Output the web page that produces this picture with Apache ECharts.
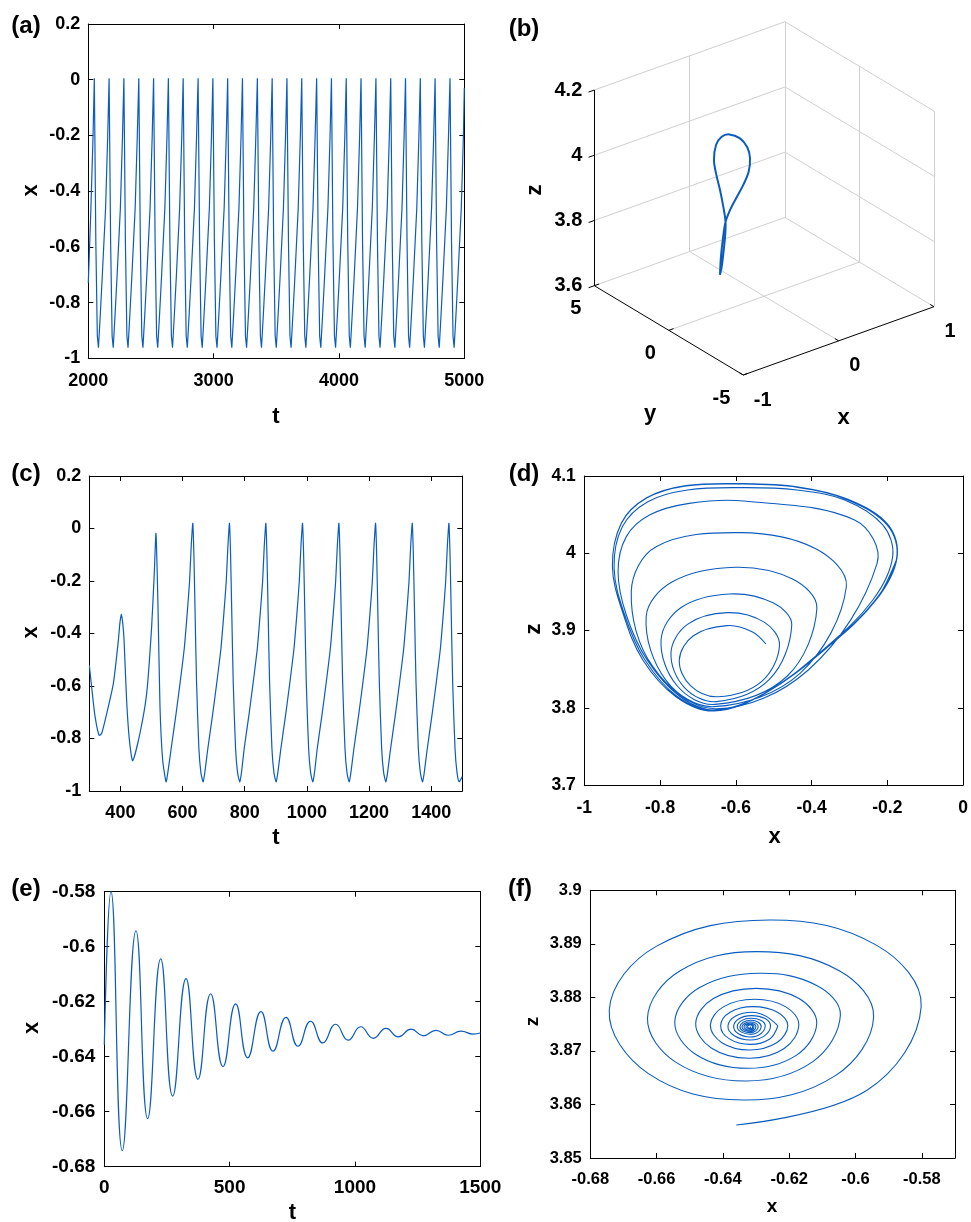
<!DOCTYPE html>
<html><head><meta charset="utf-8">
<script src="https://cdn.jsdelivr.net/npm/echarts@6/dist/echarts.min.js"></script>
<style>html,body{margin:0;padding:0;background:#fff}#c{width:971px;height:1222px}</style>
</head><body><div id="c"></div>
<script>
// ---------------- DATA ----------------
// (a) x(t), t in [2000,5000]
const aT = [2000, 2021, 2038,
 2048, 2060, 2072, 2081, 2096, 2111, 2138, 2155,
 2166, 2178, 2190, 2199, 2214, 2229, 2256, 2273,
 2284, 2296, 2308, 2317, 2332, 2347, 2374, 2391,
 2403, 2415, 2427, 2436, 2451, 2466, 2493, 2510,
 2521, 2533, 2545, 2554, 2569, 2584, 2611, 2628,
 2639, 2651, 2663, 2672, 2687, 2702, 2729, 2746,
 2757, 2769, 2781, 2790, 2805, 2820, 2847, 2864,
 2876, 2888, 2900, 2909, 2924, 2939, 2966, 2983,
 2994, 3006, 3018, 3027, 3042, 3057, 3084, 3101,
 3112, 3124, 3136, 3145, 3160, 3175, 3202, 3219,
 3230, 3242, 3254, 3263, 3278, 3293, 3320, 3337,
 3349, 3361, 3373, 3382, 3397, 3412, 3439, 3456,
 3467, 3479, 3491, 3500, 3515, 3530, 3557, 3574,
 3585, 3597, 3609, 3618, 3633, 3648, 3675, 3692,
 3703, 3715, 3727, 3736, 3751, 3766, 3793, 3810,
 3822, 3834, 3846, 3855, 3870, 3885, 3912, 3929,
 3940, 3952, 3964, 3973, 3988, 4003, 4030, 4047,
 4058, 4070, 4082, 4091, 4106, 4121, 4148, 4165,
 4176, 4188, 4200, 4209, 4224, 4239, 4266, 4283,
 4295, 4307, 4319, 4328, 4343, 4358, 4385, 4402,
 4413, 4425, 4437, 4446, 4461, 4476, 4503, 4520,
 4531, 4543, 4555, 4564, 4579, 4594, 4621, 4638,
 4649, 4661, 4673, 4682, 4697, 4712, 4739, 4756,
 4767, 4779, 4791, 4800, 4815, 4830, 4857, 4874,
 4886, 4898, 4910, 4919, 4934, 4949, 4976, 4993,
 5000];
const aX = [-0.73, -0.46, -0.2,
 0.005, -0.58, -0.92, -0.962, -0.84, -0.71, -0.46, -0.2,
 0.005, -0.58, -0.92, -0.962, -0.84, -0.71, -0.46, -0.2,
 0.005, -0.58, -0.92, -0.962, -0.84, -0.71, -0.46, -0.2,
 0.005, -0.58, -0.92, -0.962, -0.84, -0.71, -0.46, -0.2,
 0.005, -0.58, -0.92, -0.962, -0.84, -0.71, -0.46, -0.2,
 0.005, -0.58, -0.92, -0.962, -0.84, -0.71, -0.46, -0.2,
 0.005, -0.58, -0.92, -0.962, -0.84, -0.71, -0.46, -0.2,
 0.005, -0.58, -0.92, -0.962, -0.84, -0.71, -0.46, -0.2,
 0.005, -0.58, -0.92, -0.962, -0.84, -0.71, -0.46, -0.2,
 0.005, -0.58, -0.92, -0.962, -0.84, -0.71, -0.46, -0.2,
 0.005, -0.58, -0.92, -0.962, -0.84, -0.71, -0.46, -0.2,
 0.005, -0.58, -0.92, -0.962, -0.84, -0.71, -0.46, -0.2,
 0.005, -0.58, -0.92, -0.962, -0.84, -0.71, -0.46, -0.2,
 0.005, -0.58, -0.92, -0.962, -0.84, -0.71, -0.46, -0.2,
 0.005, -0.58, -0.92, -0.962, -0.84, -0.71, -0.46, -0.2,
 0.005, -0.58, -0.92, -0.962, -0.84, -0.71, -0.46, -0.2,
 0.005, -0.58, -0.92, -0.962, -0.84, -0.71, -0.46, -0.2,
 0.005, -0.58, -0.92, -0.962, -0.84, -0.71, -0.46, -0.2,
 0.005, -0.58, -0.92, -0.962, -0.84, -0.71, -0.46, -0.2,
 0.005, -0.58, -0.92, -0.962, -0.84, -0.71, -0.46, -0.2,
 0.005, -0.58, -0.92, -0.962, -0.84, -0.71, -0.46, -0.2,
 0.005, -0.58, -0.92, -0.962, -0.84, -0.71, -0.46, -0.2,
 0.005, -0.58, -0.92, -0.962, -0.84, -0.71, -0.46, -0.2,
 0.005, -0.58, -0.92, -0.962, -0.84, -0.71, -0.46, -0.2,
 0.005, -0.58, -0.92, -0.962, -0.84, -0.71, -0.46, -0.2,
 -0.03];
const aXTicks = [2000, 3000, 4000, 5000];
const aYTicks = [-1, -0.8, -0.6, -0.4, -0.2, 0, 0.2];

// (b) 3-D limit cycle (x, y, z)
const bX = [-0.96, -0.9, -0.84, -0.76, -0.68, -0.6, -0.5, -0.4, -0.3, -0.18, -0.08, 0, -0.08, -0.2, -0.32, -0.45, -0.58, -0.7, -0.78, -0.86, -0.92, -0.95, -0.96];
const bY = [-3.18, -2.86, -2.61, -2.27, -2.01, -1.95, -1.80, -1.52, -0.97, -0.02, 1.11, 2.34, 2.34, 1.95, 1.32, 0.35, -0.75, -1.74, -2.40, -2.88, -3.15, -3.23, -3.18];
const bZ = [3.853, 3.894, 3.937, 3.969, 3.985, 4.016, 4.043, 4.065, 4.081, 4.076, 4.062, 4.032, 4.033, 4.031, 4.015, 4.014, 4.007, 3.995, 3.975, 3.951, 3.914, 3.878, 3.853];
const bXTicks = [-1, 0, 1];
const bYTicks = [-5, 0, 5];
const bZTicks = [3.6, 3.8, 4, 4.2];

// (c) x(t), t in [300,1500]
const cT = [300, 308, 318.6, 331.5, 340, 356, 377.5, 393.6, 398, 403, 408, 411.8, 420, 429, 439.6, 463, 484.6, 500.6, 509, 514.6, 521, 527.4, 536, 547, 552,
 563.5, 578.5, 592.5, 605.5, 614.5, 622.5, 627.5, 633, 636.5, 640.5, 645, 652.5, 659, 666, 671,
 681.5, 696.5, 710.5, 723.5, 732.5, 740.5, 745.5, 751, 754.5, 758.5, 763, 770.5, 777, 784, 789,
 798.5, 813.5, 827.5, 840.5, 849.5, 857.5, 862.5, 868, 871.5, 875.5, 880, 887.5, 894, 901, 906,
 916.5, 931.5, 945.5, 958.5, 967.5, 975.5, 980.5, 986, 989.5, 993.5, 998, 1005.5, 1012, 1019, 1024,
 1033.5, 1048.5, 1062.5, 1075.5, 1084.5, 1092.5, 1097.5, 1103, 1106.5, 1110.5, 1115, 1122.5, 1129, 1136, 1141,
 1151.5, 1166.5, 1180.5, 1193.5, 1202.5, 1210.5, 1215.5, 1221, 1224.5, 1228.5, 1233, 1240.5, 1247, 1254, 1259,
 1269.5, 1284.5, 1298.5, 1311.5, 1320.5, 1328.5, 1333.5, 1339, 1342.5, 1346.5, 1351, 1358.5, 1365, 1372, 1377,
 1387.5, 1402.5, 1416.5, 1429.5, 1438.5, 1446.5, 1451.5, 1457, 1460.5, 1464.5, 1469, 1476.5, 1483, 1490,
 1500];
const cX = [-0.52, -0.609, -0.717, -0.788, -0.78, -0.705, -0.59, -0.425, -0.365, -0.326, -0.365, -0.425, -0.654, -0.806, -0.885, -0.78, -0.628, -0.374, -0.171, -0.019, -0.298, -0.679, -0.882, -0.965, -0.935,
 -0.837, -0.711, -0.584, -0.457, -0.33, -0.203, -0.076, 0.02, -0.1, -0.33, -0.584, -0.837, -0.93, -0.965, -0.935,
 -0.837, -0.711, -0.584, -0.457, -0.33, -0.203, -0.076, 0.02, -0.1, -0.33, -0.584, -0.837, -0.93, -0.965, -0.935,
 -0.837, -0.711, -0.584, -0.457, -0.33, -0.203, -0.076, 0.02, -0.1, -0.33, -0.584, -0.837, -0.93, -0.965, -0.935,
 -0.837, -0.711, -0.584, -0.457, -0.33, -0.203, -0.076, 0.02, -0.1, -0.33, -0.584, -0.837, -0.93, -0.965, -0.935,
 -0.837, -0.711, -0.584, -0.457, -0.33, -0.203, -0.076, 0.02, -0.1, -0.33, -0.584, -0.837, -0.93, -0.965, -0.935,
 -0.837, -0.711, -0.584, -0.457, -0.33, -0.203, -0.076, 0.02, -0.1, -0.33, -0.584, -0.837, -0.93, -0.965, -0.935,
 -0.837, -0.711, -0.584, -0.457, -0.33, -0.203, -0.076, 0.02, -0.1, -0.33, -0.584, -0.837, -0.93, -0.965, -0.935,
 -0.837, -0.711, -0.584, -0.457, -0.33, -0.203, -0.076, 0.02, -0.1, -0.33, -0.584, -0.837, -0.93, -0.965,
 -0.945];
const cXTicks = [400, 600, 800, 1000, 1200, 1400];
const cYTicks = [-1, -0.8, -0.6, -0.4, -0.2, 0, 0.2];

// (d) phase portrait x–z (transient spiralling out to the limit cycle)
const dX = [-0.5205, -0.5572, -0.6227, -0.7122, -0.7493, -0.7191, -0.6463, -0.5321, -0.4847, -0.5252,
 -0.6227, -0.7277, -0.7712, -0.7362, -0.6515, -0.5107, -0.4524, -0.5005,
 -0.6166, -0.7444, -0.7974, -0.7556, -0.6550, -0.4648, -0.3860, -0.4490,
 -0.6009, -0.7676, -0.8367, -0.7842, -0.6576, -0.4306, -0.3083, -0.3902,
 -0.5878, -0.8105, -0.8760, -0.8192, -0.6576, -0.4087, -0.2271, -0.2865,
 -0.5790, -0.7231, -0.8279, -0.8891, -0.9109, -0.8891, -0.8341, -0.7493, -0.6576, -0.5266, -0.3651, -0.2384, -0.1860, -0.2122, -0.3127, -0.4393,
 -0.5747, -0.7275, -0.8323, -0.8996, -0.9214, -0.8943, -0.8411, -0.7555, -0.6576, -0.5240, -0.3581, -0.2323, -0.1756, -0.1991, -0.3057, -0.4367,
 -0.5834, -0.7319, -0.8367, -0.9022, -0.9258, -0.8978, -0.8454, -0.7581, -0.6576, -0.5223, -0.3563, -0.2297, -0.1747, -0.1974, -0.3039, -0.4349,
 -0.5834, -0.7319, -0.8367, -0.9022, -0.9258, -0.8978, -0.8454, -0.7581, -0.6576, -0.5223, -0.3563, -0.2297, -0.1747];
const dZ = [3.8825, 3.8985, 3.9063, 3.8932, 3.8618, 3.8282, 3.8143, 3.8339, 3.8812, 3.9108,
 3.9231, 3.9079, 3.8713, 3.8265, 3.8079, 3.8370, 3.9071, 3.9355,
 3.9473, 3.9298, 3.8877, 3.8288, 3.8044, 3.8408, 3.9287, 3.9662,
 3.9818, 3.9630, 3.9179, 3.8355, 3.8014, 3.8446, 3.9567, 4.0062,
 4.0267, 4.0085, 3.9503, 3.8532, 3.7988, 3.8489, 3.9870, 4.0430,
 4.0676, 4.0646, 4.0495, 4.0215, 3.9762, 3.9201, 3.8618, 3.8152, 3.7971, 3.8178, 3.8769, 3.9395, 3.9956, 4.0366, 4.0689, 4.0819,
 4.0849, 4.0819, 4.0668, 4.0344, 3.9813, 3.9214, 3.8627, 3.8148, 3.7962, 3.8187, 3.8791, 3.9391, 3.9934, 4.0357, 4.0694, 4.0853,
 4.0896, 4.0871, 4.0711, 4.0387, 3.9826, 3.9222, 3.8618, 3.8143, 3.7958, 3.8187, 3.8791, 3.9395, 3.9934, 4.0366, 4.0698, 4.0858,
 4.0901, 4.0875, 4.0715, 4.0392, 3.9826, 3.9222, 3.8618, 3.8143, 3.7958, 3.8187, 3.8791, 3.9395, 3.9934];
const dXTicks = [-1, -0.8, -0.6, -0.4, -0.2, 0];
const dYTicks = [3.7, 3.8, 3.9, 4, 4.1];

// (e) damped x(t), t in [0,1500]
const eT = [0, 26.7, 71.8, 126.4, 173, 225, 272.8, 326, 373.8, 424.3, 473.5, 524, 572, 625, 673, 725, 772.6, 823, 872, 923, 973, 1022.6, 1073, 1123.7, 1173, 1223.4, 1272.6, 1323, 1372, 1423, 1472, 1500];
const eX = [-0.6357, -0.58, -0.6742, -0.5942, -0.6625, -0.6044, -0.6543, -0.6116, -0.6482, -0.6171, -0.6436, -0.6208, -0.6404, -0.6236, -0.638, -0.6257, -0.6362, -0.6271, -0.635, -0.6282, -0.634, -0.6291, -0.6333, -0.6297, -0.6328, -0.630, -0.6324, -0.6304, -0.6322, -0.6307, -0.6318, -0.6314];
const eXTicks = [0, 500, 1000, 1500];
const eYTicks = [-0.68, -0.66, -0.64, -0.62, -0.6, -0.58];

// (f) x–z spiral into the focus: outer turns, then inner turns
const fOuterX = [-0.63597, -0.59655,
 -0.5802, -0.5936, -0.62594, -0.66012, -0.67428, -0.66247, -0.63396, -0.60609,
 -0.59454, -0.60491, -0.62995, -0.65314, -0.66275, -0.65402, -0.63296, -0.61289,
 -0.60457, -0.61172, -0.62895, -0.64703, -0.65452, -0.64805, -0.63246, -0.61778,
 -0.6117, -0.61704, -0.62995, -0.64286, -0.6482, -0.6435, -0.63216, -0.62152,
 -0.61711, -0.62102, -0.63045, -0.63988, -0.64379, -0.64032, -0.63196, -0.6238,
 -0.62042, -0.62351, -0.63095, -0.63783, -0.64068, -0.63806, -0.63176, -0.62587,
 -0.62343];
const fOuterZ = [3.85616, 3.86264,
 3.87827, 3.88971, 3.89446, 3.88953, 3.87765, 3.86576, 3.86083, 3.86539,
 3.8764, 3.88499, 3.88854, 3.88489, 3.87609, 3.86781, 3.86438, 3.868,
 3.87671, 3.88222, 3.8845, 3.88185, 3.87547, 3.8693, 3.86675, 3.86922,
 3.87516, 3.87978, 3.88169, 3.87978, 3.87516, 3.87054, 3.86862, 3.87044,
 3.87484, 3.87823, 3.87964, 3.87823, 3.87484, 3.87154, 3.87017, 3.87151,
 3.87472, 3.87723, 3.87827, 3.87723, 3.87472, 3.87225, 3.87123, 3.87224,
 3.87466];
const fInnerX = [-0.62343, -0.63115, -0.63848, -0.63176,
 -0.62564, -0.63135, -0.63677, -0.63176,
 -0.62724, -0.63145, -0.63567, -0.63176,
 -0.62845, -0.63155, -0.63487, -0.63176,
 -0.62936, -0.63165, -0.63426, -0.63176,
 -0.63006, -0.6317, -0.63366, -0.63176,
 -0.63066, -0.63176, -0.63306, -0.63176,
 -0.63106, -0.63176, -0.63256, -0.63176,
 -0.63176];
const fInnerZ = [3.87466, 3.87721, 3.87466, 3.87204,
 3.8746, 3.87659, 3.8746, 3.8726,
 3.8746, 3.87609, 3.8746, 3.8731,
 3.8745, 3.87572, 3.8745, 3.87341,
 3.8745, 3.8754, 3.8745, 3.87365,
 3.8745, 3.87516, 3.8745, 3.8739,
 3.87453, 3.87497, 3.87453, 3.87409,
 3.87453, 3.87484, 3.87453, 3.87422,
 3.87453];
const fXTicks = [-0.68, -0.66, -0.64, -0.62, -0.6, -0.58];
const fYTicks = [3.85, 3.86, 3.87, 3.88, 3.89, 3.9];

// ---------------- STYLE / LAYOUT ----------------
const FONT = "'Liberation Sans', Arial, Helvetica, sans-serif";
const BLUE = '#0b5cbe';
const fmt = v => String(parseFloat(Number(v).toFixed(6)));
const zip = (a, b) => a.map((v, i) => [v, b[i]]);

const grids = [], xAxes = [], yAxes = [], series = [], graphics = [];

function addPanel(box, xr, yr, xt, yt, fs, xm, ym) {
  const gi = grids.length;
  grids.push({left: box[0], top: box[1], width: box[2], height: box[3], containLabel: false});
  const mk = (r, t, pos, lab, m) => ({
    gridIndex: gi, type: 'value', min: r[0], max: r[1], position: pos,
    axisLine: {show: true, onZero: false, lineStyle: {color: '#000', width: 1}},
    axisTick: {show: true, inside: true, length: 5, customValues: t, lineStyle: {color: '#000', width: 1}},
    axisLabel: {show: lab, customValues: t, margin: m, color: '#000', fontSize: fs, fontWeight: 'bold', fontFamily: FONT, formatter: fmt},
    splitLine: {show: false}
  });
  const xi = xAxes.length, yi = yAxes.length;
  xAxes.push(mk(xr, xt, 'bottom', true, xm), mk(xr, xt, 'top', false, xm));
  yAxes.push(mk(yr, yt, 'left', true, ym), mk(yr, yt, 'right', false, ym));
  return {xi, yi};
}
// plain ECharts line series
function addLine(p, data, width, smooth) {
  series.push({type: 'line', xAxisIndex: p.xi, yAxisIndex: p.yi, data, symbol: 'none', showSymbol: false,
    smooth: smooth || false, clip: true, silent: true, animation: false,
    lineStyle: {color: BLUE, width}});
}
// curve through the points, positioned by the axes (api.coord), drawn as a smoothed polyline
function addCurve(p, xs, ys, width, smooth) {
  series.push({type: 'custom', coordinateSystem: 'cartesian2d', xAxisIndex: p.xi, yAxisIndex: p.yi,
    silent: true, animation: false, clip: true, z: 3,
    data: [[xs[0], ys[0]]],
    renderItem: (params, api) => ({
      type: 'polyline', silent: true,
      shape: {points: xs.map((x, i) => api.coord([x, ys[i]])), smooth: smooth},
      style: {stroke: BLUE, lineWidth: width, fill: null, lineJoin: 'round'}
    })
  });
}
function txt(s, x, y, size, rot, align) {
  graphics.push({type: 'text', x, y, rotation: rot || 0, z: 100, silent: true,
    style: {text: s, fontSize: size, fontWeight: 'bold', fontFamily: FONT, fill: '#000',
      align: align || 'center', verticalAlign: 'middle'}});
}

// (a)
const pa = addPanel([88.3, 24, 376, 334.3], [2000, 5000], [-1, 0.2], aXTicks, aYTicks, 18, 14, 8);
addLine(pa, zip(aT, aX), 1.2);
// (c)
const pc = addPanel([89.3, 476, 373, 315], [300, 1500], [-1, 0.2], cXTicks, cYTicks, 18, 13, 8);
addCurve(pc, cT, cX, 1.2, 0.2);
// (d)
const pd = addPanel([584.3, 476, 381.7, 309], [-1, 0], [3.7, 4.1], dXTicks, dYTicks, 17.5, 14, 8.5);
addCurve(pd, dX, dZ, 1.1, 0.36);
// (e)
const pe = addPanel([104.3, 891.7, 376, 275], [0, 1500], [-0.68, -0.58], eXTicks, eYTicks, 19, 11.5, 9);
addLine(pe, zip(eT, eX), 1.2, 0.5);
// (f)
const pf = addPanel([590.3, 890.3, 364.7, 267.7], [-0.68, -0.57], [3.85, 3.9], fXTicks, fYTicks, 16.5, 13, 8.5);
addCurve(pf, fOuterX, fOuterZ, 1.1, 0.38);
addCurve(pf, fInnerX, fInnerZ, 1.1, 0.55);

// (b) 3-D box drawn through a page-pixel cartesian grid
const BOX = {xr: [-1, 1], yr: [-5, 5], zr: [3.6, 4.2]};
const VIEW = {O: [743.3, 375], EX: [190.7, -68.3], EY: [-149, -89.3], EZ: [0, -195.7]};
function P3(x, y, z) {
  const u = (x - BOX.xr[0]) / (BOX.xr[1] - BOX.xr[0]);
  const v = (y - BOX.yr[0]) / (BOX.yr[1] - BOX.yr[0]);
  const w = (z - BOX.zr[0]) / (BOX.zr[1] - BOX.zr[0]);
  return [VIEW.O[0] + u * VIEW.EX[0] + v * VIEW.EY[0] + w * VIEW.EZ[0],
          VIEW.O[1] + u * VIEW.EX[1] + v * VIEW.EY[1] + w * VIEW.EZ[1]];
}
const gb = grids.length;
grids.push({left: 0, top: 0, width: 971, height: 1222});
const bxi = xAxes.length, byi = yAxes.length;
xAxes.push({gridIndex: gb, type: 'value', min: 0, max: 971, show: false});
yAxes.push({gridIndex: gb, type: 'value', min: 0, max: 1222, inverse: true, show: false});

const [x0, x1] = BOX.xr, [y0, y1] = BOX.yr, [z0, z1] = BOX.zr;
const gray = [];
bZTicks.forEach(z => {
  gray.push([[x0, y1, z], [x1, y1, z]]);   // back-left wall
  gray.push([[x1, y1, z], [x1, y0, z]]);   // back-right wall
});
gray.push([[0, y1, z0], [0, y1, z1]]);
gray.push([[x1, y1, z0], [x1, y1, z1]]);
gray.push([[x1, 0, z0], [x1, 0, z1]]);
gray.push([[x1, y0, z0], [x1, y0, z1]]);
gray.push([[0, y0, z0], [0, y1, z0]]);
gray.push([[x0, 0, z0], [x1, 0, z0]]);
const blackSeg = [
  [[x0, y1, z0], [x0, y1, z1]],
  [[x0, y1, z0], [x0, y0, z0]],
  [[x0, y0, z0], [x1, y0, z0]]
];
bZTicks.forEach(z => blackSeg.push([[x0, y1, z], [x0 - 0.06, y1, z]]));
bYTicks.forEach(y => blackSeg.push([[x0, y, z0], [x0 + 0.05, y, z0]]));
bXTicks.forEach(x => blackSeg.push([[x, y0, z0], [x, y0 + 0.25, z0]]));

series.push({type: 'lines', coordinateSystem: 'cartesian2d', xAxisIndex: bxi, yAxisIndex: byi, silent: true, animation: false, z: 1,
  lineStyle: {color: '#d0d0d0', width: 1, opacity: 1},
  data: gray.map(s => ({coords: [P3(...s[0]), P3(...s[1])]}))});
series.push({type: 'lines', coordinateSystem: 'cartesian2d', xAxisIndex: bxi, yAxisIndex: byi, silent: true, animation: false, z: 2,
  lineStyle: {color: '#000', width: 1, opacity: 1},
  data: blackSeg.map(s => ({coords: [P3(...s[0]), P3(...s[1])]}))});
const bProj = bX.map((x, i) => P3(x, bY[i], bZ[i]));
addCurve({xi: bxi, yi: byi}, bProj.map(p => p[0]), bProj.map(p => p[1]), 2, 0.35);

bZTicks.forEach(z => { const p = P3(x0, y1, z); txt(fmt(z), p[0] - 12, p[1], 20, 0, 'right'); });
bYTicks.forEach(y => { const p = P3(x0, y, z0); txt(fmt(y), p[0] - 13, p[1] + 23, 20, 0, 'right'); });
bXTicks.forEach(x => { const p = P3(x, y0, z0); txt(fmt(x), p[0] + 10.5, p[1] + 25, 20, 0, 'left'); });

// axis titles and panel letters
txt('(a)', 26, 26, 24); txt('(b)', 524, 29.5, 24); txt('(c)', 26, 474, 24);
txt('(d)', 524, 474, 24); txt('(e)', 26, 889, 24); txt('(f)', 520, 889, 24);
txt('t', 276, 416.5, 22); txt('x', 30.5, 190.5, 22, Math.PI / 2);
txt('z', 535, 190, 22, Math.PI / 2); txt('y', 650, 414, 22); txt('x', 843.5, 418, 22);
txt('t', 276, 838, 22); txt('x', 30.5, 632.5, 22, Math.PI / 2);
txt('x', 774.5, 837, 22); txt('z', 533.5, 629, 22, Math.PI / 2);
txt('t', 292.5, 1213, 22); txt('x', 31.5, 1028, 22, Math.PI / 2);
txt('x', 772, 1206.5, 19); txt('z', 533, 1021.5, 19, Math.PI / 2);

const chart = echarts.init(document.getElementById('c'), null, {renderer: 'canvas', width: 971, height: 1222});
chart.setOption({
  animation: false,
  backgroundColor: '#ffffff',
  textStyle: {fontFamily: FONT},
  grid: grids, xAxis: xAxes, yAxis: yAxes, series, graphic: graphics
});
</script></body></html>
